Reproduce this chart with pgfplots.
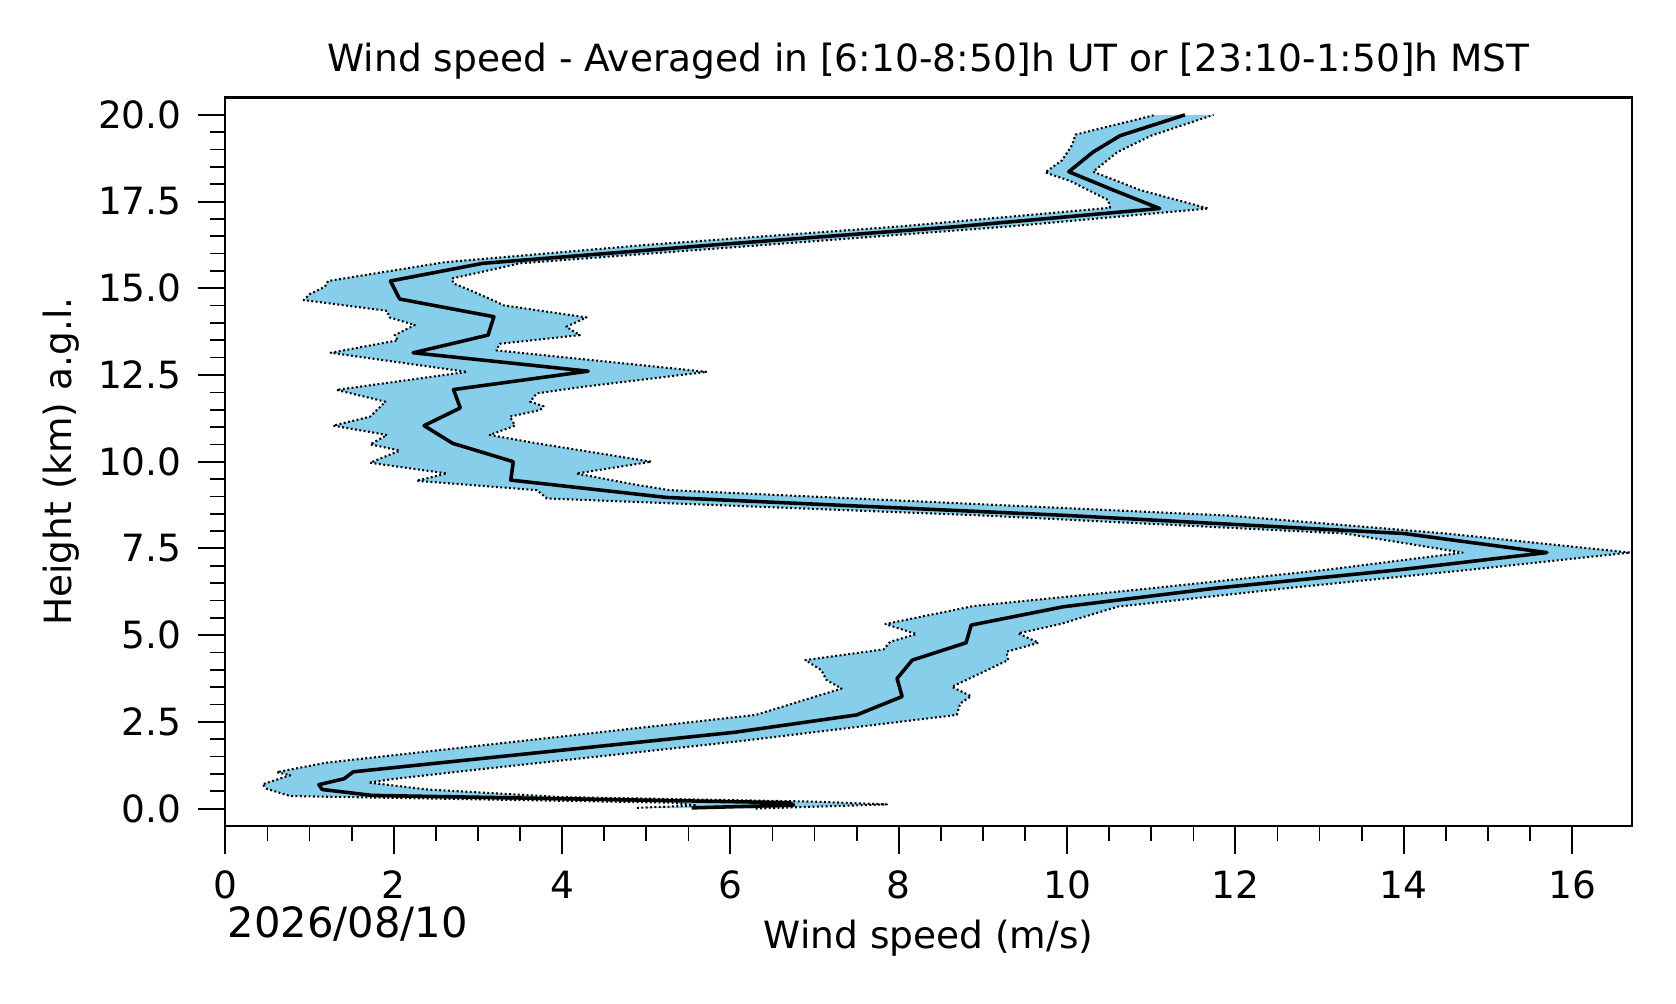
\documentclass[border=0pt]{standalone}
\usepackage{fontspec}
\setmainfont{DejaVu Sans}
\usepackage{pgfplots}
\usepackage{pgfplotstable}
\pgfplotsset{compat=1.18}
\definecolor{skyblue}{HTML}{87CEEB}

\pgfplotstableread{
v h
5.54 0.02
6.75 0.10
6.70 0.17
1.74 0.38
1.15 0.55
1.11 0.69
1.41 0.86
1.52 1.06
6.05 2.20
7.50 2.70
8.04 3.23
7.98 3.75
8.16 4.28
8.80 4.78
8.86 5.29
9.96 5.82
11.75 6.35
13.97 6.89
15.70 7.38
14.00 7.93
10.00 8.45
5.24 8.97
3.39 9.47
3.42 10.00
2.70 10.53
2.36 11.04
2.79 11.55
2.71 12.08
4.31 12.61
2.23 13.14
3.12 13.65
3.19 14.18
2.07 14.69
1.96 15.21
3.06 15.72
5.80 16.25
8.70 16.78
11.10 17.30
10.55 17.83
10.02 18.36
10.31 18.93
10.63 19.40
11.40 20.00
}\meantab

\pgfplotstableread{
v h
4.89 0.02
5.60 0.09
5.30 0.17
0.77 0.36
0.49 0.57
0.44 0.70
0.77 0.96
0.61 1.05
1.19 1.32
6.30 2.70
7.32 3.46
7.14 3.71
7.08 3.99
6.89 4.28
7.82 4.59
7.90 4.81
8.21 5.03
7.84 5.32
8.89 5.84
11.00 6.35
13.10 6.89
14.70 7.38
13.30 7.93
9.00 8.45
3.82 8.94
3.70 9.18
2.27 9.45
2.63 9.66
1.72 9.97
2.07 10.32
1.72 10.50
1.92 10.77
1.28 11.04
1.72 11.30
1.80 11.49
1.90 11.73
1.32 12.07
2.87 12.59
1.25 13.14
2.05 13.50
2.01 13.65
2.25 13.94
1.95 14.16
1.92 14.35
0.93 14.66
1.00 14.83
1.18 15.04
1.22 15.21
2.60 15.75
5.00 16.25
8.00 16.78
10.51 17.32
10.49 17.54
10.04 18.09
9.74 18.34
9.94 18.69
10.06 19.13
10.10 19.43
11.05 20.00
}\lowtab

\pgfplotstableread{
v h
6.30 0.00
7.86 0.12
7.00 0.20
4.00 0.33
2.40 0.55
1.70 0.75
2.02 0.86
2.90 1.10
6.10 1.94
8.69 2.70
8.73 3.03
8.86 3.24
8.63 3.51
9.30 4.28
9.28 4.52
9.66 4.78
9.42 5.05
9.92 5.32
10.60 5.82
12.60 6.35
14.80 6.89
16.69 7.38
14.50 7.93
11.90 8.45
7.20 8.97
5.28 9.18
4.89 9.33
4.17 9.66
5.06 10.00
3.70 10.53
3.14 10.77
3.44 11.04
3.38 11.30
3.74 11.49
3.78 11.60
3.62 11.73
3.70 11.97
4.25 12.16
5.72 12.59
3.22 13.21
3.26 13.40
4.21 13.65
4.05 13.89
4.29 14.16
3.30 14.51
3.22 14.61
2.90 14.95
2.71 15.14
2.69 15.28
3.50 15.72
6.40 16.25
9.30 16.78
11.68 17.30
10.87 17.83
10.31 18.36
10.60 18.93
11.00 19.40
11.74 20.00
}\hightab

\begin{document}
\begin{tikzpicture}
\path[use as bounding box] (0,0) rectangle (402.2bp,240.7bp);
\begin{axis}[
  at={(54.1bp,42.5bp)}, anchor=south west,
  scale only axis, width=337.5bp, height=174.8bp,
  xmin=0, xmax=16.71, ymin=-0.5, ymax=20.5,
  axis line style={line width=0.5bp},
  xtick={0,2,...,16}, xticklabels={0,2,4,6,8,10,12,14,16},
  ytick={0,2.5,...,20}, yticklabels={0.0,2.5,5.0,7.5,10.0,12.5,15.0,17.5,20.0},
  minor x tick num=3, minor y tick num=4,
  tick align=outside, tick pos=left,
  major tick length=6.7bp, minor tick length=3.7bp,
  major tick style={line width=0.5bp, black},
  minor tick style={line width=0.4bp, black},
  tick label style={font=\fontsize{9bp}{11bp}\selectfont},
  xticklabel style={yshift=-0.6bp},
  yticklabel style={xshift=-0.3bp},
  ylabel={Height (km) a.g.l.},
  ylabel style={at={(axis description cs:-0.117,0.5)}, anchor=center, font=\fontsize{9bp}{11bp}\selectfont, inner sep=0pt},
]
\addplot[draw=none, fill=skyblue] coordinates {
(4.89,0.02) (5.60,0.09) (5.30,0.17) (0.77,0.36) (0.49,0.57) (0.44,0.70) (0.77,0.96) (0.61,1.05) (1.19,1.32) (6.30,2.70)
(7.32,3.46) (7.14,3.71) (7.08,3.99) (6.89,4.28) (7.82,4.59) (7.90,4.81) (8.21,5.03) (7.84,5.32) (8.89,5.84) (11.00,6.35)
(13.10,6.89) (14.70,7.38) (13.30,7.93) (9.00,8.45) (3.82,8.94) (3.70,9.18) (2.27,9.45) (2.63,9.66) (1.72,9.97) (2.07,10.32)
(1.72,10.50) (1.92,10.77) (1.28,11.04) (1.72,11.30) (1.80,11.49) (1.90,11.73) (1.32,12.07) (2.87,12.59) (1.25,13.14) (2.05,13.50)
(2.01,13.65) (2.25,13.94) (1.95,14.16) (1.92,14.35) (0.93,14.66) (1.00,14.83) (1.18,15.04) (1.22,15.21) (2.60,15.75) (5.00,16.25)
(8.00,16.78) (10.51,17.32) (10.49,17.54) (10.04,18.09) (9.74,18.34) (9.94,18.69) (10.06,19.13) (10.10,19.43) (11.05,20.00)
(11.74,20.00) (11.00,19.40) (10.60,18.93) (10.31,18.36) (10.87,17.83) (11.68,17.30) (9.30,16.78) (6.40,16.25) (3.50,15.72) (2.69,15.28)
(2.71,15.14) (2.90,14.95) (3.22,14.61) (3.30,14.51) (4.29,14.16) (4.05,13.89) (4.21,13.65) (3.26,13.40) (3.22,13.21) (5.72,12.59)
(4.25,12.16) (3.70,11.97) (3.62,11.73) (3.78,11.60) (3.74,11.49) (3.38,11.30) (3.44,11.04) (3.14,10.77) (3.70,10.53) (5.06,10.00)
(4.17,9.66) (4.89,9.33) (5.28,9.18) (7.20,8.97) (11.90,8.45) (14.50,7.93) (16.69,7.38) (14.80,6.89) (12.60,6.35) (10.60,5.82)
(9.92,5.32) (9.42,5.05) (9.66,4.78) (9.28,4.52) (9.30,4.28) (8.63,3.51) (8.86,3.24) (8.73,3.03) (8.69,2.70) (6.10,1.94)
(2.90,1.10) (2.02,0.86) (1.70,0.75) (2.40,0.55) (4.00,0.33) (7.00,0.20) (7.86,0.12) (6.30,0.00)
};
\addplot[black, line width=0.5bp, line join=round, dash pattern=on 0.45bp off 0.6bp] table[x=v, y=h] {\lowtab};
\addplot[black, line width=0.5bp, line join=round, dash pattern=on 0.45bp off 0.6bp] table[x=v, y=h] {\hightab};
\addplot[black, line width=0.85bp, line join=round] table[x=v, y=h] {\meantab};
\end{axis}
\node[anchor=base, font=\fontsize{9bp}{11bp}\selectfont, inner sep=0pt] at (222.85bp,223.5bp) {Wind speed - Averaged in [6:10-8:50]h UT or [23:10-1:50]h MST};
\node[anchor=base, font=\fontsize{9bp}{11bp}\selectfont, inner sep=0pt] at (222.85bp,13.0bp) {Wind speed (m/s)};
\node[anchor=base west, font=\fontsize{10bp}{12bp}\selectfont, inner sep=0pt] at (54.4bp,15.8bp) {2026/08/10};
\end{tikzpicture}
\end{document}
